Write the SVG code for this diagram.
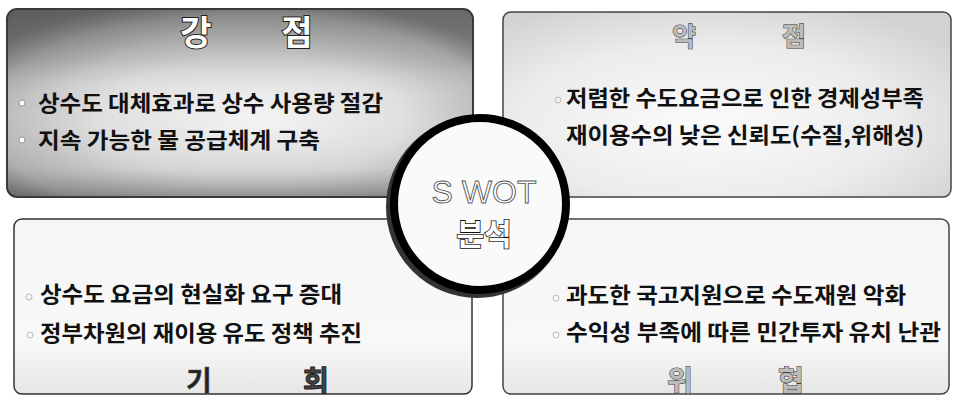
<svg xmlns="http://www.w3.org/2000/svg" width="956" height="404" viewBox="0 0 956 404">
<style>
.kr{font-family:"Noto Sans CJK KR","Noto Sans",sans-serif;font-weight:bold;font-size:22px;fill:#111}
.t1{font-family:"Noto Sans CJK KR","Noto Sans",sans-serif;font-weight:bold;text-anchor:middle}
.bul{fill:#fff;stroke:#999;stroke-width:1}
.fb{fill:none;stroke:#bbb;stroke-width:1}
</style>
<defs>
<radialGradient id="gS" cx="0.5" cy="0.58" r="0.65" fx="0.55" fy="0.6">
<stop offset="0" stop-color="#f4f4f4"/>
<stop offset="0.5" stop-color="#e0e0e0"/>
<stop offset="0.85" stop-color="#b4b4b4"/>
<stop offset="1" stop-color="#7a7a7a"/>
</radialGradient>
<linearGradient id="gSv" x1="0" y1="0" x2="0" y2="1">
<stop offset="0" stop-color="#555" stop-opacity="0.5"/>
<stop offset="0.28" stop-color="#777" stop-opacity="0.2"/>
<stop offset="0.5" stop-color="#fff" stop-opacity="0"/>
<stop offset="0.85" stop-color="#777" stop-opacity="0.12"/>
<stop offset="1" stop-color="#444" stop-opacity="0.45"/>
</linearGradient>
<linearGradient id="gSh" x1="0" y1="0" x2="1" y2="1">
<stop offset="0" stop-color="#333" stop-opacity="0.35"/>
<stop offset="0.25" stop-color="#333" stop-opacity="0"/>
</linearGradient>
<radialGradient id="gW" cx="0.45" cy="0.6" r="0.7">
<stop offset="0" stop-color="#fbfbfb"/>
<stop offset="0.6" stop-color="#ececec"/>
<stop offset="1" stop-color="#d2d2d2"/>
</radialGradient>
<linearGradient id="gB" x1="0" y1="0" x2="0" y2="1">
<stop offset="0" stop-color="#f6f6f6"/>
<stop offset="0.7" stop-color="#f8f8f8"/>
<stop offset="1" stop-color="#e6e6e6"/>
</linearGradient>
</defs>
<rect width="956" height="404" fill="#fff"/>

<g id="strength">
<rect x="7" y="9" width="466" height="188" rx="10" fill="url(#gS)"/>
<rect x="7" y="9" width="466" height="188" rx="10" fill="url(#gSh)"/>
<rect x="7" y="9" width="466" height="188" rx="10" fill="url(#gSv)" stroke="#3a3a3a" stroke-width="2"/>
<text class="t1" x="196" y="45" font-size="34" fill="#fff" stroke="#222" stroke-width="2" paint-order="stroke">강</text>
<text class="t1" x="297" y="45" font-size="34" fill="#fff" stroke="#222" stroke-width="2" paint-order="stroke">점</text>
<circle class="bul" cx="22" cy="103" r="3"/>
<circle class="bul" cx="22" cy="140" r="3"/>
<text class="kr" x="38" y="111" textLength="345" lengthAdjust="spacingAndGlyphs">상수도 대체효과로 상수 사용량 절감</text>
<text class="kr" x="38" y="148" textLength="282" lengthAdjust="spacingAndGlyphs">지속 가능한 물 공급체계 구축</text>
</g>

<g id="weakness">
<rect x="503" y="12" width="448" height="185" rx="8" fill="url(#gW)" stroke="#444" stroke-width="1.5"/>
<text class="t1" x="684" y="46" font-size="26" fill="#bbb" stroke="#333" stroke-width="1" paint-order="stroke">약</text>
<text class="t1" x="794" y="46" font-size="26" fill="#bbb" stroke="#333" stroke-width="1" paint-order="stroke">점</text>
<circle class="fb" cx="558" cy="100" r="3"/>
<text class="kr" x="566" y="106" textLength="358" lengthAdjust="spacingAndGlyphs">저렴한 수도요금으로 인한 경제성부족</text>
<text class="kr" x="566" y="143" textLength="358" lengthAdjust="spacingAndGlyphs">재이용수의 낮은 신뢰도(수질,위해성)</text>
</g>

<g id="opportunity">
<rect x="14" y="219" width="458" height="175" rx="8" fill="url(#gB)" stroke="#333" stroke-width="1.5"/>
<circle class="fb" cx="29" cy="297" r="3"/>
<circle class="fb" cx="30" cy="335" r="3"/>
<text class="kr" x="40" y="302" textLength="302" lengthAdjust="spacingAndGlyphs">상수도 요금의 현실화 요구 증대</text>
<text class="kr" x="40" y="341" textLength="322" lengthAdjust="spacingAndGlyphs">정부차원의 재이용 유도 정책 추진</text>
<text class="t1" x="199" y="391" font-size="28" fill="#222" stroke="#555" stroke-width="0.5">기</text>
<text class="t1" x="316" y="391" font-size="28" fill="#444" stroke="#222" stroke-width="1">회</text>
</g>

<g id="threat">
<rect x="503" y="219" width="446" height="175" rx="8" fill="url(#gB)" stroke="#444" stroke-width="1.5"/>
<circle class="fb" cx="556" cy="298" r="3"/>
<circle class="fb" cx="556" cy="335" r="3"/>
<text class="kr" x="566" y="303" textLength="340" lengthAdjust="spacingAndGlyphs">과도한 국고지원으로 수도재원 악화</text>
<text class="kr" x="566" y="340" textLength="375" lengthAdjust="spacingAndGlyphs">수익성 부족에 따른 민간투자 유치 난관</text>
<text class="t1" x="680" y="391" font-size="28" fill="#bbb" stroke="#333" stroke-width="1" paint-order="stroke">위</text>
<text class="t1" x="791" y="391" font-size="28" fill="#bbb" stroke="#333" stroke-width="1" paint-order="stroke">협</text>
</g>

<g id="center">
<circle cx="477" cy="207" r="86" fill="none" stroke="#333" stroke-width="10"/>
<circle cx="480" cy="204" r="86" fill="#fafafa" stroke="#000" stroke-width="8"/>
<text x="484" y="203" text-anchor="middle" font-family="Liberation Sans, Arial, sans-serif" font-size="32" fill="#fff" stroke="#555" stroke-width="0.9">S WOT</text>
<text class="t1" x="484" y="245" font-size="30" fill="#fff" stroke="#111" stroke-width="1.6" paint-order="stroke">분석</text>
</g>
<g id="connectors"/>
</svg>
